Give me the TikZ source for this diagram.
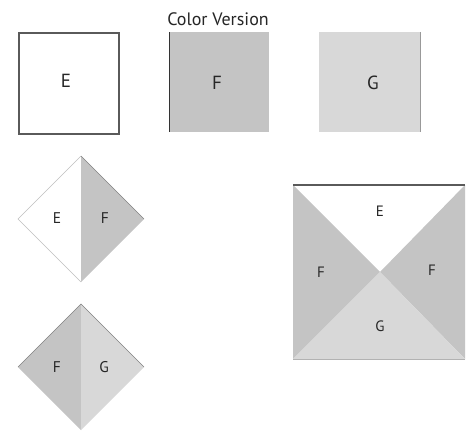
\documentclass[tikz,border=0pt]{standalone}
\usepackage{fontspec}
\setmainfont{PT Sans}
\definecolor{fcol}{HTML}{C4C4C4}
\definecolor{gcol}{HTML}{D8D8D8}
\definecolor{edgecol}{HTML}{5A5A5A}
\tikzset{
  lbl/.style={inner sep=0pt, font=\fontsize{19}{19}\selectfont, text=black!85},
  dlbl/.style={inner sep=0pt, font=\fontsize{15.5}{15.5}\selectfont, text=black!85},
  blbl/.style={inner sep=0pt, font=\fontsize{15}{15}\selectfont, text=black!85},
  thinedge/.style={line width=0.5pt, draw=gray!70}
}
\begin{document}
\begin{tikzpicture}[x=1pt,y=-1pt]
\useasboundingbox[fill=white] (0,0) rectangle (466,431);
% title
\node[inner sep=0pt, font=\fontsize{18}{18}\selectfont, text=black!85] (title) at (218,19) {Color Version};
% top squares
\draw[edgecol, line width=1.2pt] (19,33) rectangle (119,134);
\node[lbl] (e1) at (66,81) {E};
\fill[fcol] (169,32) rectangle (269,132);
\draw[black!80, line width=0.8pt] (169,32) -- (169,132);
\node[lbl] (f1) at (217,83) {F};
\fill[gcol] (319,32) rectangle (420,132);
\draw[gray!80, line width=0.6pt] (420,32) -- (420,132);
\node[lbl] (g1) at (373,83) {G};
% diamond 1
\fill[fcol] (81,156) -- (144,219) -- (81,282) -- cycle;
\draw[thinedge, draw=gray!50] (81,156) -- (18,219) -- (81,282);
\draw[thinedge, draw=gray] (81,156) -- (144,219);
\node[dlbl] (e2) at (57,218) {E};
\node[dlbl] (f2) at (105,218) {F};
% diamond 2
\fill[fcol] (81,304) -- (18,367) -- (81,430) -- cycle;
\fill[gcol] (81,304) -- (144,367) -- (81,430) -- cycle;
\draw[thinedge, draw=gray] (18,367) -- (81,304) -- (144,367);
\node[dlbl] (f3) at (57,367) {F};
\node[dlbl] (g3) at (104,367) {G};
% big square
\coordinate (c) at (380,272);
\fill[white] (293,185) -- (465,185) -- (c) -- cycle;
\fill[fcol] (293,185) -- (c) -- (293,359) -- cycle;
\fill[fcol] (465,185) -- (c) -- (465,359) -- cycle;
\fill[gcol] (293,359) -- (c) -- (465,359) -- cycle;
\draw[edgecol, line width=1.2pt] (293,185) -- (465,185);
\draw[gray!60, line width=0.6pt] (293,359) -- (465,359);
\node[blbl] (e4) at (380,211) {E};
\node[blbl] (f4) at (321,272) {F};
\node[blbl] (f5) at (432,270) {F};
\node[blbl] (g4) at (380,326) {G};
\end{tikzpicture}
\end{document}
